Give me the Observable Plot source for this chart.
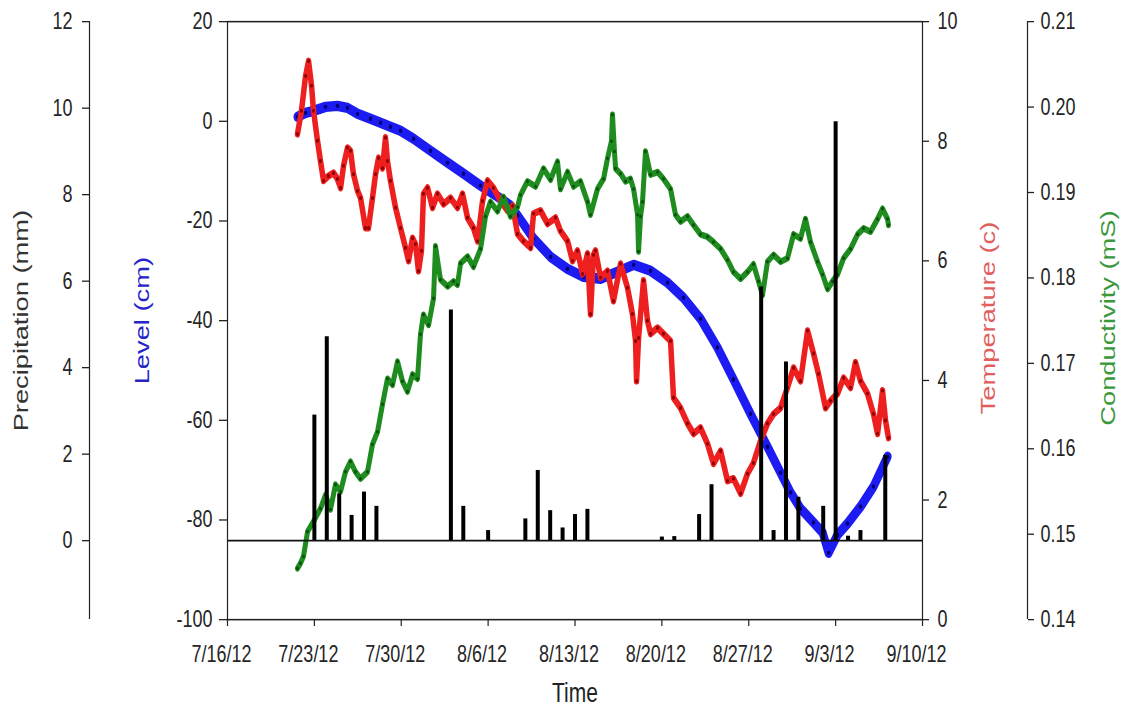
<!DOCTYPE html>
<html><head><meta charset="utf-8">
<script src="https://cdn.jsdelivr.net/npm/d3@7"></script>
<script src="https://cdn.jsdelivr.net/npm/@observablehq/plot@0.6"></script>
<style>html,body{margin:0;padding:0;background:#fff;} #chart{width:1126px;height:717px;overflow:hidden;}</style>
</head><body><div id="chart"></div>
<script>
// ---- Data (time = days elapsed since 7/16/12 00:00) ----
const levelDay = [5.64,6.29,6.93,7.90,8.86,9.67,10.48,11.52,12.33,13.13,13.94,14.99,16.36,17.73,19.02,20.39,21.76,22.80,23.37,24.66,26.03,27.40,28.69,30.06,31.43,32.72,34.09,35.46,36.74,38.11,39.48,40.77,42.14,43.51,44.56,45.37,46.17,47.22,47.95,48.43,49.15,49.96,51.01,52.05,53.18];
const levelCm  = [0.9,1.7,2.1,2.9,3.1,2.7,1.5,0.5,-0.3,-1.1,-1.9,-3.5,-5.9,-8.3,-10.5,-12.9,-15.1,-16.9,-18.9,-23.5,-27.2,-29.6,-31.2,-31.6,-30.2,-28.8,-30.0,-32.4,-35.4,-39.6,-45.4,-51.8,-58.7,-65.3,-70.5,-74.5,-77.7,-80.5,-82.5,-86.6,-83.0,-80.7,-77.3,-73.3,-67.3];

const tempDay = [5.64,5.96,6.29,6.53,6.77,6.93,7.25,7.49,7.74,8.14,8.54,8.86,9.11,9.35,9.67,9.91,10.15,10.48,10.72,11.12,11.36,11.68,11.93,12.17,12.49,12.73,12.89,13.13,13.54,13.94,14.34,14.59,14.91,15.15,15.39,15.63,15.79,16.12,16.52,16.92,17.41,17.97,18.53,18.94,19.34,19.82,20.15,20.55,20.95,21.43,22.00,22.56,22.97,23.37,23.85,24.42,24.66,25.22,25.79,26.43,26.83,27.40,27.80,28.20,28.61,29.01,29.25,29.49,29.65,30.06,30.62,31.10,31.67,32.23,32.63,32.88,32.96,33.12,33.52,33.84,34.09,34.65,35.13,35.70,35.94,36.50,37.07,37.55,38.11,38.68,39.16,39.73,40.29,40.77,41.34,41.90,42.38,42.95,43.51,44.00,44.56,45.12,45.61,46.17,46.74,47.22,47.62,48.19,48.59,49.15,49.64,50.20,50.60,51.01,51.57,52.05,52.38,52.78,53.02,53.26];
const tempC   = [8.12,8.51,9.09,9.34,8.93,8.51,8.01,7.67,7.34,7.42,7.47,7.37,7.22,7.59,7.89,7.84,7.45,7.17,7.05,6.55,6.55,7.05,7.45,7.72,7.55,8.06,7.67,7.34,6.89,6.55,6.22,6.00,6.38,6.28,5.83,6.17,7.12,7.22,6.89,7.12,6.95,7.05,6.89,7.12,6.72,6.55,6.33,7.00,7.34,7.22,7.00,6.84,6.92,6.45,6.33,6.22,6.79,6.84,6.62,6.72,6.50,6.33,6.00,6.17,5.78,6.12,5.11,6.10,6.17,5.72,5.83,5.33,5.95,5.55,5.11,4.66,3.99,4.71,5.67,5.00,4.78,4.88,4.78,4.66,3.71,3.54,3.28,3.11,3.21,2.94,2.61,2.82,2.32,2.36,2.11,2.44,2.62,2.99,3.28,3.44,3.54,3.88,4.21,3.99,4.83,4.45,4.11,3.54,3.66,3.78,4.04,3.88,4.30,3.99,3.78,3.44,3.11,3.83,3.33,3.04];

const condDay = [5.64,5.88,6.12,6.45,6.93,7.49,7.90,8.30,8.70,9.11,9.51,9.91,10.31,10.72,11.28,11.68,12.09,12.49,12.89,13.30,13.70,14.10,14.50,14.91,15.31,15.55,15.79,16.20,16.60,16.76,17.16,17.73,18.21,18.53,18.78,19.34,19.82,20.39,20.79,21.19,21.76,22.24,22.80,23.37,23.61,24.17,24.82,25.46,26.03,26.59,26.83,27.40,27.88,28.44,29.01,29.25,29.81,30.30,30.62,30.94,31.02,31.18,31.27,31.67,32.07,32.47,32.72,33.04,33.12,33.28,33.44,33.68,34.09,34.65,35.13,35.70,36.10,36.50,37.07,37.55,38.11,38.68,39.16,39.73,40.29,40.77,41.34,41.90,42.38,42.79,43.11,43.51,44.00,44.56,45.12,45.61,46.17,46.57,46.98,47.54,47.95,48.35,48.75,49.15,49.64,50.20,50.77,51.25,51.81,52.38,52.78,53.18,53.26];
const condMS  = [0.1460,0.1466,0.1474,0.1503,0.1515,0.1530,0.1546,0.1529,0.1558,0.1550,0.1573,0.1585,0.1573,0.1565,0.1573,0.1605,0.1620,0.1652,0.1682,0.1675,0.1702,0.1679,0.1667,0.1687,0.1682,0.1734,0.1757,0.1745,0.1776,0.1837,0.1798,0.1790,0.1796,0.1792,0.1817,0.1825,0.1813,0.1834,0.1872,0.1889,0.1878,0.1895,0.1872,0.1883,0.1897,0.1913,0.1907,0.1928,0.1915,0.1936,0.1904,0.1924,0.1907,0.1913,0.1889,0.1874,0.1904,0.1916,0.1940,0.1960,0.1991,0.1948,0.1928,0.1922,0.1913,0.1916,0.1904,0.1874,0.1831,0.1872,0.1889,0.1948,0.1921,0.1924,0.1916,0.1904,0.1874,0.1866,0.1872,0.1862,0.1851,0.1848,0.1842,0.1834,0.1821,0.1807,0.1799,0.1807,0.1816,0.1796,0.1780,0.1819,0.1827,0.1819,0.1823,0.1851,0.1846,0.1869,0.1842,0.1819,0.1804,0.1787,0.1796,0.1804,0.1823,0.1834,0.1851,0.1858,0.1854,0.1869,0.1881,0.1869,0.1862];

const precipDate = ["2012-07-23","2012-07-24","2012-07-25","2012-07-26","2012-07-27","2012-07-28","2012-08-03","2012-08-04","2012-08-06","2012-08-09","2012-08-10","2012-08-11","2012-08-12","2012-08-13","2012-08-14","2012-08-20","2012-08-21","2012-08-23","2012-08-24","2012-08-28","2012-08-29","2012-08-30","2012-08-31","2012-09-02","2012-09-03","2012-09-04","2012-09-05","2012-09-07"];
const precipMM   = [2.90,4.71,1.08,0.58,1.12,0.79,5.33,0.79,0.23,0.50,1.62,0.69,0.29,0.60,0.72,0.08,0.09,0.60,1.29,5.86,0.23,4.13,1.00,0.79,9.68,0.10,0.23,1.97];

const xTickDates  = ["2012-07-16","2012-07-23","2012-07-30","2012-08-06","2012-08-13","2012-08-20","2012-08-27","2012-09-03","2012-09-10"];
const levelTicks  = [-100,-80,-60,-40,-20,0,20];
const precipTicks = [0,2,4,6,8,10,12];
const tempTicks   = [0,2,4,6,8,10];
const condTicks   = [0.14,0.15,0.16,0.17,0.18,0.19,0.20,0.21];

// ---- Mapping of secondary axes onto the level (cm) axis ----
const T0 = Date.UTC(2012, 6, 16);
const toDate = d => new Date(T0 + d * 864e5);
const pToL = p => -84.15 + p * 8.679;
const tToL = t => -100 + 12 * t;
const cToL = c => -100 + (c - 0.14) * 120 / 0.07;

const levelRows = levelDay.map((d, i) => ({date: toDate(d), v: levelCm[i]}));
const tempRows  = tempDay.map((d, i) => ({date: toDate(d), v: tToL(tempC[i])}));
const condRows  = condDay.map((d, i) => ({date: toDate(d), v: cToL(condMS[i])}));
const precipRows = precipDate.map((d, i) => ({date: new Date(d), v: pToL(precipMM[i])}));
const xTicks = xTickDates.map(d => new Date(d));
const fmt = d3.utcFormat("%-m/%-d/%y");

const S = 1.3;             // vertical stretch of the original picture
const W = 1126, H = 717 / S;
const mTop = 21 / S, mBottom = (717 - 619) / S;
const pxPerCm = (H - mTop - mBottom) / 120;
const xTickLen = (7 / S) / pxPerCm;   // x tick length expressed in cm units
const axisColor = "#222";

const svg = Plot.plot({
  width: W, height: H,
  marginTop: mTop, marginBottom: mBottom, marginLeft: 227, marginRight: 204,
  style: {fontFamily: "'Liberation Sans', Arial, sans-serif", fontSize: "18px", color: "#262626", background: "#fff"},
  x: {type: "utc", domain: [xTicks[0], xTicks[xTicks.length - 1]]},
  y: {domain: [-100, 20]},
  marks: [
    Plot.line(levelRows, {x: "date", y: "v", stroke: "#1c1cf2", strokeWidth: 8, strokeLinejoin: "round", strokeLinecap: "round"}),
    Plot.dot(levelRows, {x: "date", y: "v", r: 1.7, fill: "#00006e"}),
    Plot.line(tempRows, {x: "date", y: "v", stroke: "#ee1f1f", strokeWidth: 5.5, strokeLinejoin: "round", strokeLinecap: "round"}),
    Plot.dot(tempRows, {x: "date", y: "v", r: 1.5, fill: "#8a0000"}),
    Plot.line(condRows, {x: "date", y: "v", stroke: "#1f8c1f", strokeWidth: 5, strokeLinejoin: "round", strokeLinecap: "round"}),
    Plot.dot(condRows, {x: "date", y: "v", r: 1.4, fill: "#0b4d0b"}),
    Plot.ruleY([pToL(0)], {stroke: "#111", strokeWidth: 1.3}),
    Plot.ruleX(precipRows, {x: "date", y1: pToL(0), y2: "v", stroke: "#000", strokeWidth: 4}),
    Plot.frame({stroke: axisColor, strokeWidth: 1.2}),
    // Level axis (left frame)
    Plot.axisY(levelTicks, {anchor: "left", tickSize: 8, tickPadding: 7, tickFormat: d => String(d), stroke: axisColor, label: null}),
    // Precipitation axis (far left)
    Plot.ruleX([xTicks[0]], {y1: pToL(12), y2: -100, dx: -138, stroke: axisColor, strokeWidth: 1.2}),
    Plot.axisY(precipTicks.map(pToL), {anchor: "left", dx: -138, tickSize: 7, tickPadding: 10, stroke: axisColor,
      tickFormat: d => String(Math.round((d + 84.15) / 8.679)), label: null}),
    // Temperature axis (right frame)
    Plot.axisY(tempTicks.map(tToL), {anchor: "right", tickSize: 6, tickPadding: 9, stroke: axisColor,
      tickFormat: d => String(Math.round((d + 100) / 12)), label: null}),
    // Conductivity axis (far right)
    Plot.ruleX([xTicks[xTicks.length - 1]], {y1: 20, y2: -100, dx: 105, stroke: axisColor, strokeWidth: 1.2}),
    Plot.axisY(condTicks.map(cToL), {anchor: "right", dx: 105, tickSize: 6, tickPadding: 7, stroke: axisColor,
      tickFormat: d => ((d + 100) * 0.07 / 120 + 0.14).toFixed(2), label: null}),
    // Time axis: ticks + labels
    Plot.ruleX(xTicks, {x: d => d, y1: -100, y2: -100 - xTickLen, stroke: axisColor, strokeWidth: 1.2}),
    Plot.axisX(xTicks, {anchor: "bottom", tickSize: 0, tickPadding: 26 / S, dx: -6, tickFormat: fmt, label: null}),
    // Titles
    Plot.text(["Precipitation (mm)"], {frameAnchor: "left", textAnchor: "middle", dx: -206, rotate: -90, fontSize: 21, fill: "#333"}),
    Plot.text(["Level (cm)"], {frameAnchor: "left", textAnchor: "middle", dx: -85, rotate: -90, fontSize: 21, fill: "#2424c8"}),
    Plot.text(["Temperature (c)"], {frameAnchor: "right", textAnchor: "middle", dx: 66, dy: -2, rotate: -90, fontSize: 21, fill: "#e05e5e"}),
    Plot.text(["Conductivity (mS)"], {frameAnchor: "right", textAnchor: "middle", dx: 186, dy: -2, rotate: -90, fontSize: 21, fill: "#3a983a"}),
    Plot.text(["Time"], {frameAnchor: "bottom", dy: (701 - 619) / S, fontSize: 21, fill: "#222"})
  ]
});

// The reference picture is stretched vertically: reproduce by stretching the SVG.
svg.setAttribute("viewBox", `0 0 ${W} ${H}`);
svg.setAttribute("width", W);
svg.setAttribute("height", 717);
svg.setAttribute("preserveAspectRatio", "none");
svg.style.width = W + "px";
svg.style.height = "717px";
svg.style.maxWidth = "none";
svg.style.display = "block";
document.getElementById("chart").appendChild(svg);
</script>
</body></html>
